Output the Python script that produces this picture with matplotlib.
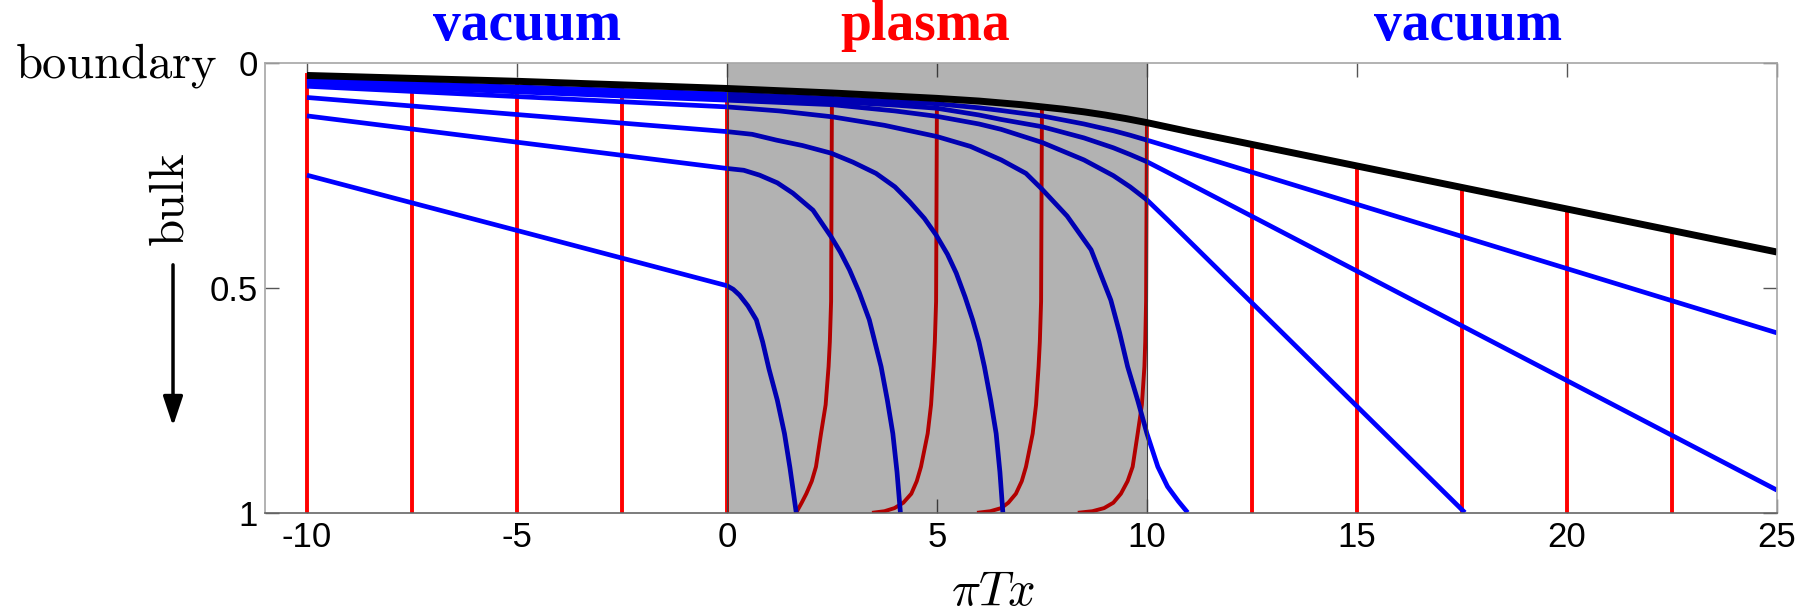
import matplotlib
matplotlib.use('Agg')
import matplotlib.pyplot as plt
import matplotlib.transforms as mtransforms
from matplotlib.patches import FancyArrowPatch

plt.rcParams['font.family'] = ['Liberation Sans', 'DejaVu Sans']
plt.rcParams['mathtext.fontset'] = 'cm'

# ---------------------------------------------------------------
#  data (x = pi T x, y = 0 boundary .. 1 bulk)
# ---------------------------------------------------------------
black_x = [-10, -5, 0, 2.5, 5, 6, 7, 7.5, 8, 8.5, 9, 9.5, 10, 10.5, 11, 12, 25]
black_y = [0.027, 0.040, 0.056, 0.066, 0.078, 0.084, 0.092, 0.097, 0.102, 0.108,
           0.115, 0.123, 0.132, 0.142, 0.152, 0.171, 0.42]

blue_curves = [
    ([-10, 0, 0.15, 0.3, 0.5, 0.7, 0.85, 1.0, 1.2, 1.37, 1.5, 1.65],
     [0.249, 0.495, 0.503, 0.516, 0.54, 0.571, 0.62, 0.68, 0.75, 0.824, 0.9, 1.0]),
    ([-10, 0, 0.4, 0.78, 1.2, 1.57, 2.05, 2.48, 2.7, 2.92, 3.15, 3.39, 3.67, 3.82,
      3.95, 4.05, 4.13],
     [0.117, 0.234, 0.238, 0.249, 0.266, 0.289, 0.327, 0.386, 0.42, 0.46, 0.51,
      0.571, 0.675, 0.75, 0.824, 0.91, 1.0]),
    ([-10, 0, 0.6, 1.18, 1.8, 2.48, 3.0, 3.55, 4.0, 4.35, 4.7, 4.98, 5.25, 5.46,
      5.67, 5.85, 6.0, 6.13, 6.28, 6.41, 6.5, 6.57],
     [0.076, 0.152, 0.158, 0.171, 0.183, 0.2, 0.22, 0.245, 0.275, 0.308, 0.345,
      0.382, 0.425, 0.467, 0.52, 0.571, 0.62, 0.675, 0.75, 0.824, 0.91, 1.0]),
    ([-10, 0, 1.25, 2.5, 3.75, 5, 5.8, 6.53, 7.12, 7.5, 8.1, 8.67, 9.14, 9.35,
      9.54, 9.78, 10.0, 10.26, 10.49, 10.75, 10.97],
     [0.051, 0.097, 0.106, 0.119, 0.138, 0.163, 0.185, 0.215, 0.245, 0.28, 0.34,
      0.415, 0.527, 0.6, 0.675, 0.75, 0.824, 0.898, 0.942, 0.975, 1.0]),
    ([-10, 0, 2.5, 4, 5, 6, 6.53, 7.5, 8.5, 9.2, 9.6, 10, 10.5, 17.57],
     [0.045, 0.082, 0.092, 0.106, 0.118, 0.135, 0.147, 0.176, 0.215, 0.25, 0.275,
      0.304, 0.349, 1.0]),
    ([-10, 0, 2.5, 4, 5, 6, 6.53, 7.5, 8.5, 9.2, 9.6, 10, 10.5, 25],
     [0.041, 0.075, 0.085, 0.093, 0.100, 0.115, 0.125, 0.141, 0.166, 0.188, 0.203,
      0.219, 0.243, 0.95]),
    ([-10, 0, 2.5, 4, 5, 6, 6.53, 7.5, 8.5, 9.2, 9.6, 10, 10.5, 25],
     [0.037, 0.068, 0.078, 0.085, 0.090, 0.099, 0.105, 0.117, 0.135, 0.150, 0.160,
      0.171, 0.185, 0.60]),
]

# straight red lines in the vacuum, from the boundary curve down to the bulk
red_line_x = [-10, -7.5, -5, -2.5, 0, 12.5, 15, 17.5, 20, 22.5]
red_line_top = [0.027, 0.033, 0.040, 0.048, 0.056, 0.181, 0.229, 0.277, 0.325, 0.372]

# red curves inside the plasma, bending back near the bulk
red_curves = [
    ([2.5, 2.48, 2.45, 2.42, 2.35, 2.24, 2.12, 2.02, 1.89, 1.78, 1.65],
     [0.066, 0.53, 0.62, 0.675, 0.76, 0.824, 0.898, 0.93, 0.958, 0.978, 1.0]),
    ([5.0, 4.98, 4.95, 4.92, 4.86, 4.78, 4.62, 4.52, 4.39, 4.2, 3.99, 3.75, 3.5],
     [0.078, 0.53, 0.62, 0.675, 0.76, 0.824, 0.898, 0.93, 0.958, 0.978, 0.99, 0.997, 1.0]),
    ([7.5, 7.48, 7.45, 7.42, 7.36, 7.28, 7.12, 7.02, 6.88, 6.7, 6.53, 6.27, 6.0],
     [0.097, 0.53, 0.62, 0.675, 0.76, 0.824, 0.898, 0.93, 0.958, 0.978, 0.99, 0.997, 1.0]),
    ([10.0, 9.98, 9.96, 9.94, 9.88, 9.78, 9.66, 9.54, 9.38, 9.2, 8.98, 8.7, 8.4],
     [0.132, 0.53, 0.62, 0.675, 0.76, 0.824, 0.898, 0.93, 0.958, 0.978, 0.99, 0.997, 1.0]),
]

plasma_range = (0, 10)
xticks = [-10, -5, 0, 5, 10, 15, 20, 25]
xtick_labels = ['-10', '-5', '0', '5', '10', '15', '20', '25']
yticks = [0, 0.5, 1]
ytick_labels = ['0', '0.5', '1']
region_labels = [(-4.75, 'vacuum', 'blue'), (4.72, 'plasma', 'red'), (17.64, 'vacuum', 'blue')]


fig = plt.figure(figsize=(18.06, 6.13), dpi=100)
ax = fig.add_axes([0.1467, 0.1638, 0.8372, 0.7329])

for x, top in zip(red_line_x, red_line_top):
    ax.plot([x, x], [top, 1.0], color='red', lw=2.8, zorder=2)
for xs, ys in red_curves:
    ax.plot(xs, ys, color='red', lw=2.8, zorder=2)
for xs, ys in blue_curves:
    ax.plot(xs, ys, color='blue', lw=3.4, zorder=2.2, solid_capstyle='butt',
            solid_joinstyle='round')

# translucent grey band over the plasma (darkens the lines underneath)
ax.axvspan(*plasma_range, facecolor='k', alpha=0.3, lw=0, zorder=3)
for xe in plasma_range:
    ax.axvline(xe, color='#404040', lw=0.8, zorder=3.1)

ax.plot(black_x, black_y, color='k', lw=5, zorder=4, solid_capstyle='butt',
        solid_joinstyle='round')

ax.set_xlim(-11, 25)
ax.set_ylim(1, 0)
ax.set_xticks(xticks)
ax.set_xticklabels(xtick_labels)
ax.set_yticks(yticks)
ax.set_yticklabels(ytick_labels)
ax.tick_params(direction='in', length=10, width=1, color='#555555',
               labelsize=25, top=True, right=True)
ax.tick_params(axis='x', pad=6)
ax.tick_params(axis='y', pad=5)
for side, sp in ax.spines.items():
    sp.set_zorder(10)
    sp.set_linewidth(1.2)
    sp.set_color('#666666' if side == 'bottom' else '#a6a6a6')

# region names above the frame
trans = mtransforms.blended_transform_factory(ax.transData, fig.transFigure)
for xc, name, col in region_labels:
    ax.text(xc, 0.935, name, transform=trans, ha='center', va='baseline',
            color=col, fontsize=40, fontweight='bold',
            family=['Liberation Serif', 'DejaVu Serif'], clip_on=False)

ax.text(6.33, 0.034, r'$\pi T x$', transform=trans, ha='center', va='center',
        fontsize=35)

fig.text(0.120, 0.873, r'$\mathrm{boundary}$', ha='right', va='baseline', fontsize=35)
fig.text(0.0947, 0.674, r'$\mathrm{bulk}$', ha='center', va='center',
         rotation=90, fontsize=35)
fig.add_artist(FancyArrowPatch(
    (0.0958, 0.568), (0.0958, 0.305), transform=fig.transFigure,
    arrowstyle='-|>,head_length=0.9,head_width=0.3', mutation_scale=20,
    lw=2.5, color='k', shrinkA=0, shrinkB=0))

fig.savefig('out.png', dpi=100)
